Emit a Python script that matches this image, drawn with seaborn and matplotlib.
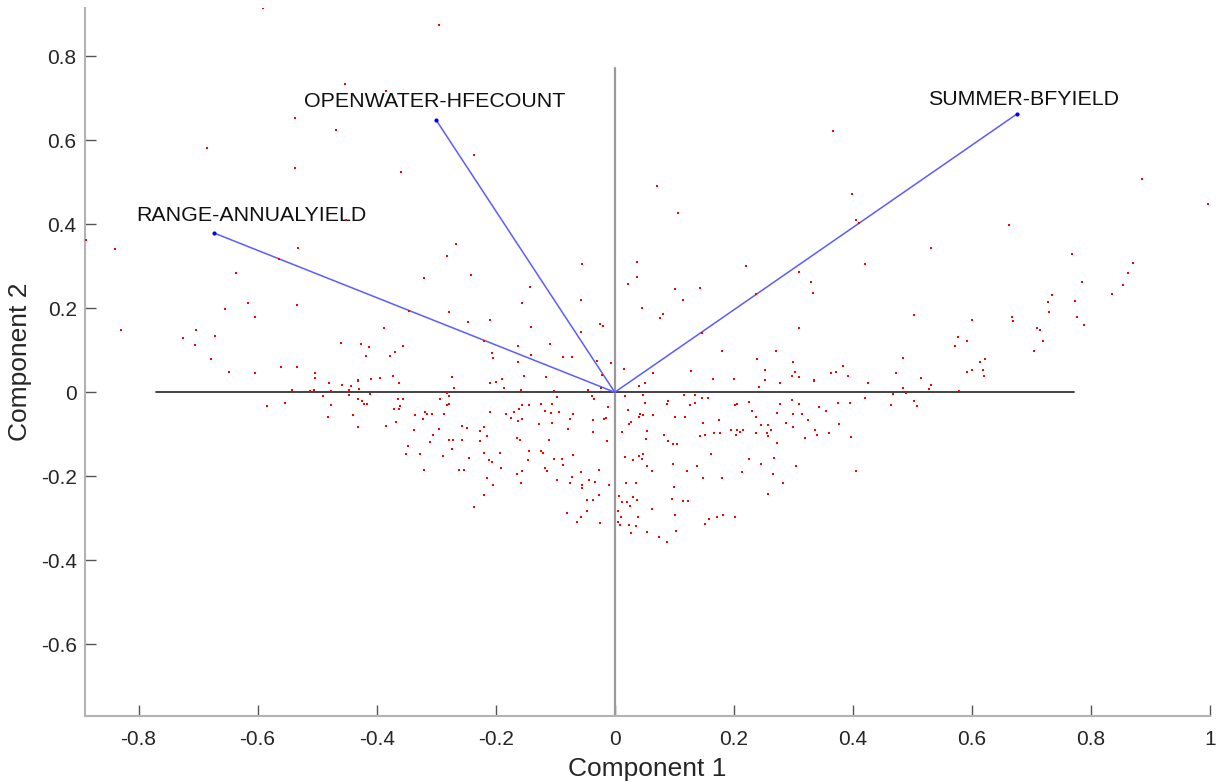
import numpy as np
import pandas as pd
import seaborn as sns
import matplotlib.pyplot as plt

## Variable loadings (arrow end points) and their labels
var_names = ["SUMMER-BFYIELD", "OPENWATER-HFECOUNT", "RANGE-ANNUALYIELD"]
load_pc1 = [0.675, -0.300, -0.673]
load_pc2 = [0.662, 0.648, 0.379]
label_pc1 = [0.687, -0.303, -0.611]
label_pc2 = [0.698, 0.693, 0.421]

pc1 = [
    -0.591, -0.295, -0.454, -0.385, -0.538, -0.469, -0.685, -0.537, -0.359, -0.237, 0.367, 0.071, 0.885,
    -0.889, -0.839, -0.532, -0.452, -0.564, -0.266, -0.281, -0.637, -0.320, -0.654, -0.616, -0.534, -0.605,
    -0.345, -0.278, -0.829, -0.703, -0.388, -0.726, -0.672, -0.706, -0.460, -0.426, -0.413, -0.355, -0.678,
    -0.418, -0.377, -0.370, -0.648, -0.605, -0.560, -0.534, -0.503, -0.504, -0.431, -0.409, -0.394, -0.373,
    -0.273,
    0.107, -0.242, -0.055, -0.142, -0.156, -0.057, 0.038, 0.037, 0.022, 0.101, 0.144, 0.115, 0.220, 0.310,
    0.329, 0.333, 0.237, 0.045, 0.081, 0.076, -0.246, -0.209, -0.140, -0.025, -0.019, -0.056, 0.147, 0.310,
    -0.219, -0.162, -0.109, -0.206, -0.204, -0.141, -0.162, -0.087, -0.072, -0.030, -0.007, -0.021, -0.152,
    -0.116, -0.190, 0.016, 0.065, 0.128, 0.181, 0.239, 0.271, 0.252, 0.300, 0.302, 0.297, 0.309, 0.165,
    0.200, 0.252, 0.334, 0.364,
    0.399, 0.996, 0.405, 0.410, 0.662, 0.531, 0.421, 0.768, 0.870, 0.862, 0.785, 0.854, 0.836, 0.735, 0.727,
    0.774, 0.729, 0.503, 0.668, 0.669, 0.600, 0.777, 0.789, 0.709, 0.715, 0.719, 0.705, 0.577, 0.592, 0.571,
    0.484, 0.384, 0.371, 0.392, 0.472, 0.515, 0.622, 0.614, 0.618, 0.601, 0.591, 0.620,
    -0.585, -0.554, -0.543, -0.512, -0.506, -0.480, -0.477, -0.490, -0.476, -0.481, -0.459, -0.443, -0.447,
    -0.447, -0.431, -0.430, -0.432, -0.424, -0.422, -0.416, -0.412, -0.440, -0.431, -0.362, -0.364, -0.356,
    -0.361, -0.362, -0.371, -0.368, -0.385, -0.335, -0.322, -0.318, -0.315, -0.307, -0.287, -0.293, -0.281,
    -0.279, -0.279, -0.282, -0.270, -0.338, -0.296, -0.306, -0.311, -0.278, -0.272, -0.273, -0.348, -0.351,
    -0.328, -0.288, -0.321,
    -0.210, -0.199, -0.186, -0.157, -0.102, -0.045, -0.023, 0.041, 0.050, 0.242, 0.278, 0.334,
    -0.097, -0.038, -0.035, -0.012, -0.209, -0.156, -0.144, -0.161, -0.169, -0.124, -0.105, -0.117, -0.107,
    -0.094, -0.070, -0.182, -0.175, -0.156, -0.162, -0.076, -0.036, -0.018, -0.015, -0.127, -0.105, -0.257,
    -0.248, -0.219, -0.078, -0.226, -0.036, -0.215, -0.256, -0.227, -0.165, -0.159, -0.110, -0.013, -0.144,
    -0.220, -0.192, -0.124, -0.120, -0.071, -0.245, -0.211, -0.206, -0.146, -0.102, -0.089, -0.087, -0.191,
    -0.117, -0.114, -0.261, -0.253, -0.156, -0.165, -0.056, -0.027, -0.215, -0.097, -0.072, -0.044, -0.034,
    -0.205, -0.157, -0.076, -0.055, -0.055, -0.010, -0.220, -0.026, -0.047, -0.037, -0.237, -0.046, -0.080,
    -0.056, -0.063, -0.025,
    0.017, 0.048, 0.117, 0.134, 0.146, 0.157, 0.090, 0.087, 0.051, 0.135, 0.127, 0.225, 0.202, 0.205, 0.298,
    0.309, 0.277, 0.343, 0.355, 0.022, 0.042, 0.047, 0.041, 0.065, 0.102, 0.118, 0.231, 0.237, 0.272, 0.299,
    0.314, 0.324, 0.027, 0.024, 0.149, 0.175, 0.287, 0.246, 0.258, 0.300, 0.054, 0.013, 0.083, 0.143, 0.151,
    0.166, 0.177, 0.196, 0.205, 0.210, 0.215, 0.203, 0.237, 0.256, 0.263, 0.257, 0.336, 0.340, 0.360, 0.319,
    0.053, 0.090, 0.098, 0.105, 0.272, 0.047, 0.041, 0.018, 0.030, 0.045, 0.161, 0.226, 0.267, 0.245, 0.054,
    0.062, 0.098, 0.138, 0.122, 0.213, 0.266, 0.304, 0.149, 0.180, 0.282, 0.019, 0.035, 0.100, 0.258, 0.007,
    0.030, 0.037, 0.013, 0.020, 0.026, 0.097, 0.114, 0.123, 0.005, 0.062, 0.010, 0.039, 0.101, 0.158, 0.172,
    0.182, 0.202, 0.151, 0.006, 0.008, 0.024, 0.035, 0.027, 0.054, 0.103, 0.074, 0.088,
    0.426, 0.485, 0.528, 0.532, 0.579, 0.467, 0.490, 0.420, 0.375, 0.396, 0.464, 0.502, 0.508, 0.376, 0.397,
    0.406,
]
pc2 = [
    0.915, 0.875, 0.734, 0.717, 0.654, 0.624, 0.581, 0.535, 0.524, 0.566, 0.622, 0.490, 0.508,
    0.362, 0.342, 0.343, 0.410, 0.317, 0.352, 0.325, 0.284, 0.271, 0.198, 0.213, 0.207, 0.179,
    0.193, 0.191, 0.148, 0.148, 0.152, 0.129, 0.134, 0.112, 0.117, 0.116, 0.107, 0.111, 0.079,
    0.087, 0.087, 0.096, 0.048, 0.046, 0.061, 0.060, 0.046, 0.035, 0.030, 0.032, 0.034, 0.039,
    0.036,
    0.427, 0.280, 0.305, 0.250, 0.212, 0.219, 0.311, 0.275, 0.257, 0.247, 0.248, 0.219, 0.300, 0.286,
    0.262, 0.236, 0.235, 0.201, 0.186, 0.176, 0.167, 0.171, 0.155, 0.163, 0.158, 0.143, 0.142, 0.153,
    0.121, 0.109, 0.116, 0.093, 0.082, 0.088, 0.073, 0.084, 0.083, 0.074, 0.069, 0.042, 0.038,
    0.036, 0.031, 0.056, 0.046, 0.050, 0.099, 0.080, 0.098, 0.054, 0.071, 0.048, 0.038, 0.036, 0.031,
    0.032, 0.030, 0.030, 0.046,
    0.471, 0.448, 0.410, 0.402, 0.398, 0.344, 0.306, 0.328, 0.308, 0.284, 0.263, 0.255, 0.233, 0.232, 0.214,
    0.217, 0.190, 0.183, 0.180, 0.170, 0.171, 0.178, 0.159, 0.153, 0.148, 0.121, 0.098, 0.132, 0.123, 0.109,
    0.082, 0.063, 0.047, 0.038, 0.045, 0.033, 0.079, 0.071, 0.052, 0.052, 0.047, 0.038,
    -0.033, -0.025, 0.005, 0.002, 0.006, 0.021, 0.002, -0.010, -0.031, -0.060, 0.017, 0.014, 0.005,
    -0.006, 0.027, 0.007, -0.015, -0.021, -0.028, -0.029, -0.004, -0.054, -0.083, 0.022, -0.017, -0.015,
    -0.032, -0.040, -0.039, -0.071, -0.080, -0.054, -0.064, -0.047, -0.053, -0.052, -0.053, -0.015, -0.003,
    -0.010, -0.027, -0.031, 0.010, -0.089, -0.088, -0.102, -0.118, -0.113, -0.113, -0.135, -0.129, -0.148,
    -0.147, -0.152, -0.186,
    0.022, 0.024, 0.010, 0.005, 0.003, 0.006, 0.011, 0.014, 0.021, 0.013, 0.021, 0.027,
    -0.012, -0.010, -0.016, -0.034, -0.046, -0.031, -0.031, -0.041, -0.046, -0.029, -0.028, -0.044, -0.049,
    -0.048, -0.053, -0.052, -0.062, -0.063, -0.068, -0.064, -0.067, -0.063, -0.062, -0.075, -0.074, -0.081,
    -0.084, -0.083, -0.087, -0.093, -0.094, -0.104, -0.113, -0.117, -0.110, -0.113, -0.114, -0.117, -0.139,
    -0.144, -0.144, -0.141, -0.144, -0.150, -0.156, -0.162, -0.167, -0.161, -0.158, -0.158, -0.174, -0.180,
    -0.180, -0.188, -0.184, -0.185, -0.188, -0.195, -0.190, -0.184, -0.204, -0.208, -0.202, -0.209, -0.214,
    -0.220, -0.217, -0.217, -0.222, -0.227, -0.220, -0.245, -0.245, -0.256, -0.256, -0.274, -0.283, -0.287,
    -0.297, -0.308, -0.311,
    -0.010, -0.006, -0.006, -0.006, -0.013, -0.013, -0.020, -0.029, -0.025, -0.025, -0.031, -0.023, -0.030,
    -0.029, -0.019, -0.028, -0.029, -0.036, -0.044, -0.042, -0.052, -0.054, -0.059, -0.054, -0.059, -0.060,
    -0.045, -0.060, -0.050, -0.052, -0.052, -0.065, -0.070, -0.076, -0.074, -0.067, -0.073, -0.079, -0.079,
    -0.083, -0.092, -0.095, -0.103, -0.105, -0.102, -0.097, -0.098, -0.090, -0.090, -0.095, -0.090, -0.101,
    -0.098, -0.096, -0.090, -0.105, -0.089, -0.103, -0.098, -0.110, -0.112, -0.116, -0.124, -0.123, -0.121,
    -0.147, -0.152, -0.155, -0.162, -0.160, -0.148, -0.159, -0.156, -0.171, -0.175, -0.187, -0.171, -0.176,
    -0.187, -0.189, -0.194, -0.176, -0.204, -0.205, -0.217, -0.216, -0.216, -0.226, -0.242, -0.248, -0.249,
    -0.256, -0.262, -0.261, -0.271, -0.255, -0.260, -0.258, -0.282, -0.277, -0.297, -0.296, -0.293, -0.303,
    -0.297, -0.293, -0.296, -0.314, -0.309, -0.317, -0.317, -0.319, -0.335, -0.333, -0.330, -0.345, -0.356,
    0.022, 0.011, 0.008, 0.017, 0.002, -0.004, -0.001, -0.014, -0.025, -0.025, -0.031, -0.020, -0.032,
    -0.075, -0.106, -0.188,
]

xticks = [-0.8, -0.6, -0.4, -0.2, 0, 0.2, 0.4, 0.6, 0.8, 1]
yticks = [-0.6, -0.4, -0.2, 0, 0.2, 0.4, 0.6, 0.8]

scores = pd.DataFrame({"pc1": pc1, "pc2": pc2})

sns.set_style("white")
plt.rcParams['font.family'] = ['Liberation Sans', 'DejaVu Sans']
plt.rcParams['axes.unicode_minus'] = False

fig = plt.figure(figsize=(12.16, 7.82), dpi=100)
ax = fig.add_axes([85 / 1216, 66 / 782, 1125 / 1216, 708 / 782])

# axis cross lines, like matlab biplot
ax.plot([-0.771, 0.771], [0, 0], color='#222222', lw=1.2, zorder=1)
ax.plot([0, 0], [-0.771, 0.771], color='#9a9a9a', lw=1.6, zorder=1)

# loading vectors
for i in range(len(var_names)):
    ax.plot([0, load_pc1[i]], [0, load_pc2[i]], color='#5c5cff', lw=1.1, zorder=2)
    ax.plot(load_pc1[i], load_pc2[i], marker='o', ms=2, color='#0000ff', zorder=2)
    ax.text(label_pc1[i], label_pc2[i], var_names[i], ha='center', va='center',
            fontsize=15.4, color='#111111', zorder=3)

sns.scatterplot(data=scores, x='pc1', y='pc2', color='red', marker='s', s=3.5,
                linewidth=0, ax=ax, zorder=4)

ax.set_xlim(-0.89, 1.0)
ax.set_ylim(-0.771, 0.915)
ax.set_xticks(xticks)
ax.set_xticklabels([f"{v:g}" for v in xticks])
ax.set_yticks(yticks)
ax.set_yticklabels([f"{v:g}" for v in yticks])

for side in ['top', 'right']:
    ax.spines[side].set_visible(False)
for side in ['left', 'bottom']:
    ax.spines[side].set_color('#b3b3b3')
    ax.spines[side].set_linewidth(1.5)

ax.tick_params(direction='in', length=8, width=1, color='#555555',
               bottom=True, left=True, labelsize=15, labelcolor='#262626')
ax.tick_params(axis='x', pad=10)
ax.tick_params(axis='y', pad=6)

ax.set_xlabel("Component 1", fontsize=19, color='#262626', labelpad=6)
ax.set_ylabel("Component 2", fontsize=19, color='#262626', labelpad=6)

fig.savefig("out.png", dpi=100)
